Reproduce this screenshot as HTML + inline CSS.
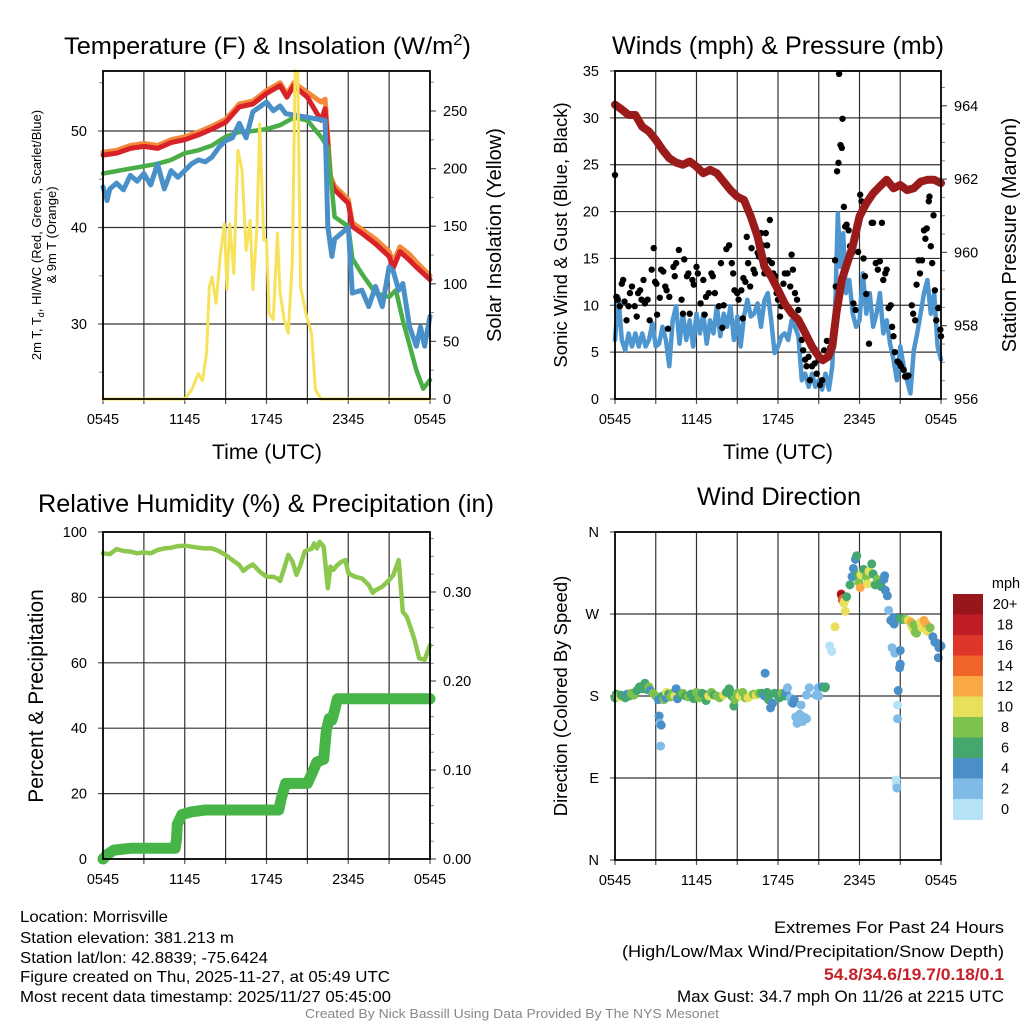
<!DOCTYPE html>
<html><head><meta charset="utf-8"><style>
html,body{margin:0;padding:0;background:#fff;}
svg{display:block;font-family:"Liberation Sans",sans-serif;}
</style></head><body>
<svg id="chart" width="1024" height="1024" viewBox="0 0 1024 1024" xmlns="http://www.w3.org/2000/svg">
<rect width="1024" height="1024" fill="#fff"/>
<text x="64" y="54" font-size="24.5" textLength="407" lengthAdjust="spacingAndGlyphs">Temperature (F) &amp; Insolation (W/m<tspan dy="-9" font-size="16">2</tspan><tspan dy="9">)</tspan></text>
<text x="778" y="54" font-size="25" text-anchor="middle" textLength="332" lengthAdjust="spacingAndGlyphs">Winds (mph) &amp; Pressure (mb)</text>
<text x="266" y="512" font-size="25" text-anchor="middle" textLength="456" lengthAdjust="spacingAndGlyphs">Relative Humidity (%) &amp; Precipitation (in)</text>
<text x="779" y="505" font-size="25" text-anchor="middle" textLength="164" lengthAdjust="spacingAndGlyphs">Wind Direction</text>

<text x="267" y="459" font-size="21" text-anchor="middle" textLength="110" lengthAdjust="spacingAndGlyphs">Time (UTC)</text>
<text x="778" y="459" font-size="21" text-anchor="middle" textLength="110" lengthAdjust="spacingAndGlyphs">Time (UTC)</text>
<text transform="translate(41,235) rotate(-90)" font-size="13" text-anchor="middle">2m T, T<tspan dy="3" font-size="9">d</tspan><tspan dy="-3">, HI/WC (Red, Green, Scarlet/Blue)</tspan></text>
<text transform="translate(56,235) rotate(-90)" font-size="13" text-anchor="middle">&amp; 9m T (Orange)</text>
<text transform="translate(501,235) rotate(-90)" font-size="20" text-anchor="middle">Solar Insolation (Yellow)</text>
<text transform="translate(567,235) rotate(-90)" font-size="18.5" text-anchor="middle">Sonic Wind &amp; Gust (Blue, Black)</text>
<text transform="translate(1016,235) rotate(-90)" font-size="20" text-anchor="middle">Station Pressure (Maroon)</text>
<text transform="translate(43,696) rotate(-90)" font-size="21" text-anchor="middle">Percent &amp; Precipitation</text>
<text transform="translate(567,696) rotate(-90)" font-size="18.5" text-anchor="middle">Direction (Colored By Speed)</text>

<g font-size="16">
<text x="20" y="922" textLength="148" lengthAdjust="spacingAndGlyphs">Location: Morrisville</text>
<text x="20" y="943" textLength="214" lengthAdjust="spacingAndGlyphs">Station elevation: 381.213 m</text>
<text x="20" y="963" textLength="248" lengthAdjust="spacingAndGlyphs">Station lat/lon: 42.8839; -75.6424</text>
<text x="20" y="982" textLength="370" lengthAdjust="spacingAndGlyphs">Figure created on Thu, 2025-11-27, at 05:49 UTC</text>
<text x="20" y="1002" textLength="371" lengthAdjust="spacingAndGlyphs">Most recent data timestamp: 2025/11/27 05:45:00</text>
</g>
<g font-size="16.5" text-anchor="end">
<text x="1004" y="933" textLength="230" lengthAdjust="spacingAndGlyphs">Extremes For Past 24 Hours</text>
<text x="1004" y="957" textLength="382" lengthAdjust="spacingAndGlyphs">(High/Low/Max Wind/Precipitation/Snow Depth)</text>
<text x="1004" y="980" fill="#c8202a" font-weight="bold" textLength="180" lengthAdjust="spacingAndGlyphs">54.8/34.6/19.7/0.18/0.1</text>
<text x="1004" y="1002" textLength="327" lengthAdjust="spacingAndGlyphs">Max Gust: 34.7 mph On 11/26 at 2215 UTC</text>
</g>
<text x="512" y="1018" font-size="13" fill="#888" text-anchor="middle" textLength="414" lengthAdjust="spacingAndGlyphs">Created By Nick Bassill Using Data Provided By The NYS Mesonet</text>
</svg>
<script>
// ---------- data ----------
const tempT=[0,1,2,3,4,5,6,7,8,9,10,11,12,13,13.5,14,15,16,16.3,16.7,17,18,18.3,19,20,21,21.3,21.8,22.5,23,24];
const tempRed=[47.5,47.7,48.2,48.4,48.2,48.8,49.1,49.6,50.2,50.9,52.5,52.8,53.9,54.7,53.5,54.7,53.5,51.1,52.3,44.9,43.9,42.5,40.1,39.4,38.3,37.0,35.8,37.5,36.6,35.9,34.6];
const tempOrange=[47.8,48.0,48.5,48.7,48.5,49.1,49.4,49.9,50.5,51.2,52.8,53.1,54.2,55.0,53.8,55.0,54.0,53.0,53.3,45.3,44.3,42.9,40.5,39.8,38.8,37.5,36.4,38.0,37.2,36.4,35.0];
const dewT=[0,2,4,5,6,7,8,9,10,11,12,13,14,15,16,16.5,17,18,18.3,19,20,21,21.5,22,23,23.5,24];
const dewGreen=[45.6,46.1,46.6,47.0,47.7,48.0,48.5,49.4,49.9,50.0,50.2,50.6,51.4,51.1,49.4,48.3,41.1,40.1,36.8,35.2,33.2,32.8,33.5,30.4,25.2,23.3,24.2];
const chillT=[0,0.3,0.5,1,1.5,2,2.5,3,3.5,4,4.5,5,5.5,6,6.5,7,7.5,8,8.5,9,9.5,10,10.5,11,11.5,12,12.5,13,13.4,16.3,16.5,16.8,17,17.5,18,18.3,19,19.5,20,20.5,21,21.3,21.7,22,22.5,23,23.3,23.6,24];
const chillBlue=[44.2,42.8,44.0,44.6,43.9,45.4,44.8,45.6,44.4,46.6,44.0,45.9,45.2,45.9,46.6,47.0,46.8,47.3,48.3,49.0,49.3,50.8,49.3,52.0,52.5,53.0,52.1,52.6,51.8,51.1,40.1,37.0,38.8,39.4,40.0,33.2,33.5,31.8,33.9,31.8,35.9,35.5,33.5,34.2,29.7,27.7,29.7,27.7,30.8];
const solarT=[0,6,6.5,7,7.3,7.6,7.8,8,8.3,8.6,8.9,9.1,9.3,9.6,9.9,10.2,10.5,10.8,11,11.3,11.5,11.8,12,12.2,12.5,12.8,13,13.3,13.6,13.9,14.1,14.3,14.5,14.9,15.3,15.6,16,24];
const solarV=[0,0,8,22,16,40,97,106,83,124,152,95,152,109,216,199,129,155,95,150,239,138,138,74,69,144,92,69,57,121,285,283,97,74,57,8,0,0];

const presT=[0,0.5,1,1.5,2,2.5,3,3.5,4,4.5,5,5.5,6,6.5,7,7.5,8,8.5,9,9.5,10,10.5,11,11.5,12,12.5,13,13.5,14,14.5,15,15.3,15.7,16,16.3,16.7,17,17.5,18,18.5,19,19.5,20,20.5,21,21.5,22,22.5,23,23.5,24];
const presV=[964.03,963.9,963.75,963.75,963.43,963.3,963.07,962.8,962.57,962.45,962.39,962.48,962.34,962.16,962.25,962.16,961.93,961.7,961.52,961.43,960.98,960.43,959.61,959.34,958.98,958.6,958.34,958.16,957.8,957.43,957.16,957.06,957.16,957.43,958.34,959.25,959.6,960.16,960.98,961.34,961.61,961.8,961.98,961.75,961.84,961.7,961.75,961.93,961.98,961.98,961.89];
const windT=[0,0.25,0.5,0.75,1,1.25,1.5,1.75,2,2.25,2.5,2.75,3,3.25,3.5,3.75,4,4.25,4.5,4.75,5,5.25,5.5,5.75,6,6.25,6.5,6.75,7,7.25,7.5,7.75,8,8.25,8.5,8.75,9,9.25,9.5,9.75,10,10.25,10.5,10.75,11,11.25,11.5,11.75,12,12.25,12.5,12.75,13,13.25,13.5,13.75,14,14.25,14.5,14.75,15,15.25,15.5,15.75,16,16.25,16.4,16.6,16.8,17,17.25,17.5,17.75,18,18.25,18.5,18.75,19,19.25,19.5,19.75,20,20.25,20.5,20.75,21,21.25,21.5,21.75,22,22.25,22.5,22.75,23,23.25,23.5,23.75,24];
const windV=[6.3,10.9,6.3,5.2,7.0,5.6,7.0,5.6,7.0,5.6,6.3,8.1,5.6,5.9,7.7,6.3,3.5,8.4,9.9,5.9,9.1,6.3,8.4,5.6,9.1,7.0,9.1,5.9,8.4,7.0,9.9,6.7,9.1,7.7,9.9,6.3,8.8,5.6,8.8,10.6,8.8,9.1,10.2,7.7,10.5,11.3,8.4,4.9,5.6,6.7,7.0,6.3,8.4,7.7,6.7,2.0,2.7,1.3,2.7,1.3,2.0,1.0,2.7,1.0,3.5,11.3,19.8,14.1,17.7,11.3,12.7,9.1,7.7,8.4,13.4,9.1,11.3,7.7,9.1,11.3,7.0,8.4,5.9,4.2,2.0,5.6,3.5,2.0,0.6,5.2,7.0,9.1,11.3,12.7,9.1,11.3,5.6,4.2];
const gustT=[0,0.1,0.2,0.35,0.5,0.6,0.7,0.85,1.0,1.1,1.25,1.45,1.6,1.7,1.85,1.95,2.1,2.2,2.4,2.55,2.7,2.85,2.95,3.05,3.1,3.3,3.4,3.55,3.7,3.8,3.9,4.0,4.3,4.4,4.5,4.7,4.9,5.0,5.1,5.3,5.4,5.5,5.7,5.8,6.0,6.1,6.3,6.5,6.6,6.7,6.9,7.1,7.2,7.35,7.65,7.8,7.9,8.0,8.2,8.4,8.6,8.7,8.8,9.0,9.1,9.3,9.4,9.45,9.6,9.7,9.8,9.95,10.05,10.2,10.3,10.5,10.6,10.75,10.85,11.0,11.1,11.2,11.3,11.4,11.55,11.65,11.8,11.9,12.0,12.15,12.25,12.4,12.5,12.7,12.9,13.0,13.1,13.25,13.4,13.5,13.6,13.75,13.85,14.0,14.1,14.25,14.35,14.5,14.7,14.85,15.0,15.1,15.25,15.4,15.6,15.85,15.95,16.2,16.25,16.35,16.45,16.5,16.6,16.7,16.75,16.85,16.95,17.05,17.2,17.3,17.45,17.55,17.7,17.9,18.05,18.15,18.3,18.4,18.5,18.7,18.9,19.0,19.2,19.35,19.5,19.65,19.75,19.9,20.0,20.15,20.3,20.4,20.5,20.6,20.8,20.95,21.05,21.25,21.35,21.5,21.6,21.85,21.95,22.1,22.2,22.35,22.45,22.6,22.75,22.85,22.95,23.1,23.15,23.25,23.35,23.45,23.55,23.65,23.8,23.95,24.0];
const gustV=[23.9,10.9,10.6,9.9,12.3,12.7,10.4,8.4,9.9,11.3,12.0,9.9,8.8,11.3,11.6,10.6,12.7,10.2,10.6,8.4,13.8,16.1,12.5,12.3,9.0,10.8,13.8,13.6,12.0,11.6,7.5,10.9,14.1,13.1,14.5,15.9,10.6,9.1,14.9,13.1,13.4,9.1,12.7,12.2,14.1,13.4,10.2,12.7,9.0,10.9,11.3,13.4,13.1,11.3,9.9,14.5,7.6,10.0,16.0,16.4,14.5,13.4,11.6,11.3,10.6,11.6,8.6,12.9,12.5,17.3,14.5,12.0,16.1,13.8,13.4,15.6,15.2,17.7,16.4,13.4,17.7,16.4,14.8,19.1,14.5,13.4,13.1,11.3,10.6,8.8,9.9,12.3,13.4,13.4,12.0,15.4,13.8,11.3,10.6,9.5,8.1,6.3,5.2,4.2,3.5,4.5,2.0,3.5,3.8,2.7,4.2,1.5,2.0,5.2,6.2,5.5,5.9,14.8,12.0,24.3,25.2,34.7,27.1,26.8,29.9,20.5,18.4,18.6,18.0,16.3,15.6,10.2,9.5,15.7,21.8,21.1,15.0,13.1,11.2,5.9,18.8,18.8,14.5,13.8,14.7,18.8,12.7,13.4,13.8,9.7,10.0,7.7,6.7,5.0,4.0,3.8,3.5,3.1,2.4,2.4,2.5,10.0,9.1,8.4,12.2,14.8,13.4,14.8,18.0,17.1,18.2,21.1,21.6,16.3,14.5,19.6,11.6,8.4,9.7,7.4,6.7];

const rhT=[0,0.5,1,1.5,2,2.5,3,3.5,4,4.5,5,5.5,6,6.5,7,7.5,8,8.5,9,9.5,10,10.3,10.6,11,11.5,12,12.5,12.8,13,13.3,13.6,13.9,14.2,14.5,14.8,15,15.3,15.5,15.7,15.9,16.2,16.5,16.7,16.9,17.2,17.5,17.8,18,18.5,19,19.5,19.8,20,20.5,21,21.3,21.7,22,22.3,22.6,22.9,23.2,23.6,24];
const rhV=[93.5,93.2,94.8,94.2,94.0,93.5,93.8,93.5,94.5,95.0,95.2,95.7,95.8,95.5,95.2,95.0,95.0,94.2,93.0,91.4,89.9,88.1,89.1,90.1,87.9,86.3,86.3,85.8,85.0,88.9,93.0,91.0,86.9,90.0,94.0,94.5,94.8,96.5,95.0,97.0,95.5,82.8,89.4,88.4,89.9,90.9,91.4,87.4,86.3,85.8,83.8,81.4,82.2,83.3,85.3,86.8,91.4,75.6,74.1,70.5,66.5,61.4,60.9,65.4];
const precipT=[0,0.3,0.8,2,5.3,5.4,5.45,5.8,6.5,7.5,12.9,13.1,13.4,15.0,15.3,15.7,16.2,16.4,16.6,16.8,17.0,17.2,24];
const precipV=[0,0.005,0.01,0.012,0.012,0.023,0.039,0.05,0.053,0.055,0.055,0.069,0.085,0.085,0.095,0.109,0.112,0.145,0.158,0.156,0.167,0.18,0.18];

const dirT=[0,0.1,0.2,0.3,0.45,0.6,0.75,0.9,1.05,1.2,1.4,1.6,1.8,2.0,2.2,2.35,2.5,2.6,2.8,3.0,3.2,3.25,3.3,3.4,3.35,3.5,3.6,3.75,3.8,3.95,4.1,4.25,4.4,4.5,4.6,4.8,5.0,5.2,5.4,5.6,5.8,6.0,6.2,6.4,6.55,6.7,6.9,7.1,7.3,7.5,7.7,8.0,8.2,8.4,8.45,8.6,8.75,8.8,9.0,9.2,9.4,9.6,9.8,10.0,10.2,10.4,10.6,10.8,11.0,11.05,11.2,11.3,11.45,11.6,11.75,12.0,12.1,12.3,12.5,12.6,12.7,12.9,13.0,13.1,13.2,13.3,13.4,13.6,13.7,13.8,13.9,14.1,14.3,14.1,14.8,14.95,15.0,15.25,15.45,15.5,15.8,15.95,16.2,16.65,16.7,16.75,16.8,16.85,16.9,16.95,17.05,17.3,17.45,17.55,17.7,17.8,17.85,17.95,18.05,18.1,18.2,18.3,18.5,18.6,18.7,18.9,19.0,19.15,19.3,19.4,19.6,19.8,19.85,19.9,20.05,20.15,20.3,20.5,20.55,20.4,20.6,21.0,20.95,21.0,20.85,20.8,20.8,20.7,20.7,20.75,21.0,21.2,21.4,21.6,21.8,21.85,21.9,22.0,22.1,22.2,22.5,22.6,22.75,22.9,23.0,23.2,23.4,23.55,23.7,23.85,24,23.8];
const dirV=[178,182,180,179,181,180,178,182,180,183,181,186,190,188,194,187,190,186,183,180,176,158,150,148,125,180,176,178,184,182,179,183,180,188,177,181,183,180,179,182,177,184,178,183,182,175,180,184,181,180,178,181,184,188,186,180,169,176,183,180,184,178,178,181,182,181,183,183,180,205,184,176,167,172,183,180,178,183,180,184,189,178,173,172,176,157,150,160,170,152,157,181,189,155,181,189,180,190,189,190,235,229,256,292,290,285,287,282,284,273,289,302,311,320,330,334,313,305,299,313,315,319,311,303,317,325,314,302,308,303,300,308,312,296,290,274,263,266,259,233,227,230,211,215,186,170,155,88,83,79,265,264,264,263,261,258,255,258,250,249,261,255,263,259,251,255,245,239,238,233,235,222];
const dirS=[6,6,8,10,6,6,6,4,6,8,8,6,6,6,6,6,8,4,8,8,4,4,2,4,2,6,8,4,10,6,8,8,10,4,4,6,8,6,8,6,6,8,8,6,6,6,10,8,6,8,8,10,6,6,6,6,6,8,8,10,8,8,10,10,8,10,8,6,4,4,6,6,4,4,6,6,6,8,6,4,2,2,2,4,4,2,2,2,2,2,2,2,2,2,2,2,2,4,6,6,0,0,10,18,20,16,14,10,10,10,6,6,4,4,4,6,6,8,12,10,10,6,8,10,10,6,6,6,8,6,6,4,4,4,4,2,4,4,4,2,2,4,4,4,4,0,2,0,0,2,6,6,8,10,12,12,10,8,8,8,10,10,12,12,10,8,4,4,4,4,4,4];

const xTickLabels=["0545","1145","1745","2345","0545"];
const tempTicks=[30,40,50];
const solarTicks=[0,50,100,150,200,250];
const windTicks=[0,5,10,15,20,25,30,35];
const presTicks=[956,958,960,962,964];
const rhTicks=[0,20,40,60,80,100];
const precipTicks=[0,0.1,0.2,0.3];
const dirTicks=[0,90,180,270,360];
const dirLabels=["N","E","S","W","N"];
const speedBins=[0,2,4,6,8,10,12,14,16,18,20];
const speedLabels=["0","2","4","6","8","10","12","14","16","18","20+"];
const speedColors=["#b6e2f7","#7fbbe6","#4a8fc8","#44a86e","#7cc24c","#e8e05a","#f8a845","#f06428","#e0352a","#c01e26","#96161b"];

// ---------- scales ----------
const svg=document.getElementById('chart');
const NS='http://www.w3.org/2000/svg';
const xL=t=>103+t*327/24;
const xR=t=>615+t*326/24;
const yTemp=v=>131+(50-v)*9.65;
const ySolar=v=>399-v*1.152;
const yWind=v=>399-v*328/35;
const yPres=v=>399-(v-956)*36.65;
const yRH=v=>859-v*3.27;
const yPrecip=v=>859-v*890;
const yDir=v=>860-v*328/360;

function mk(tag,attrs,parent){const e=document.createElementNS(NS,tag);for(const k in attrs)e.setAttribute(k,attrs[k]);(parent||svg).appendChild(e);return e;}
function pathFrom(ts,vs,fx,fy){return ts.map((t,i)=>(i?'L':'M')+fx(t).toFixed(1)+' '+fy(vs[i]).toFixed(1)).join(' ');}

function frame(x0,x1,y0,y1,name,fx,hGrid){
  const g=mk('g',{});
  
  
  for(let h=3;h<24;h+=3){mk('line',{x1:fx(h),x2:fx(h),y1:y0,y2:y1,stroke:'#333','stroke-width':1.2},g);}
  hGrid.forEach(y=>mk('line',{x1:x0,x2:x1,y1:y,y2:y,stroke:'#333','stroke-width':1.2},g));
  for(let h=0;h<=24;h+=3){mk('line',{x1:fx(h),x2:fx(h),y1:y1,y2:y1+5,stroke:'#555','stroke-width':1.2},g);}
  xTickLabels.forEach((lab,i)=>{const t=mk('text',{x:fx(i*6),y:y1+25,'font-size':14.5,'text-anchor':'middle'},g);t.textContent=lab;
    
    });
}
function frameBox(x0,x1,y0,y1,name){
  const r=mk('rect',{x:x0,y:y0,width:x1-x0,height:y1-y0,fill:'none',stroke:'#000','stroke-width':1.8});
  
  
}
function leftTicks(vals,fy,x,fmt,name){vals.forEach(v=>{mk('line',{x1:x-5,x2:x,y1:fy(v),y2:fy(v),stroke:'#555','stroke-width':1.2});
  const t=mk('text',{x:x-16,y:fy(v)+5,'font-size':14.5,'text-anchor':'end'});t.textContent=fmt(v);
  
  });}
function rightTicks(vals,fy,x,fmt,name){vals.forEach(v=>{mk('line',{x1:x,x2:x+6,y1:fy(v),y2:fy(v),stroke:'#555','stroke-width':1.2});
  const t=mk('text',{x:x+13,y:fy(v)+5,'font-size':14.5});t.textContent=fmt(v);
  
  });}
function minor(x,dir,fy,a,b,step){for(let v=a;v<=b+1e-9;v+=step){mk('line',{x1:x,x2:x+dir*4,y1:fy(v),y2:fy(v),stroke:'#888','stroke-width':1});}}
function line(ts,vs,fx,fy,color,w,name){const p=mk('path',{d:pathFrom(ts,vs,fx,fy),fill:'none',stroke:color,'stroke-width':w,'stroke-linejoin':'round','stroke-linecap':'round'});
  
  return p;}

// ---------- panel 1 ----------
frame(103,430,71,399,'temp',xL,tempTicks.map(yTemp));
minor(103,-1,yTemp,25,55,5);
leftTicks(tempTicks,yTemp,103,v=>v,'temp-y-tick');
minor(430,1,ySolar,0,285,25);
rightTicks(solarTicks,ySolar,430,v=>v,'solar-y-tick');
line(tempT,tempOrange,xL,yTemp,'#f5883a',5,'series-9m-temp-orange');
line(tempT,tempRed,xL,yTemp,'#d8222a',5,'series-2m-temp-red');
line(dewT,dewGreen,xL,yTemp,'#4aad48',4.5,'series-dewpoint-green');
line(chillT,chillBlue,xL,yTemp,'#4a90c8',5,'series-windchill-blue');
line(solarT,solarV,xL,ySolar,'#f8e25c',3,'series-solar-yellow');
frameBox(103,430,71,399,'temp-panel');

// ---------- panel 2 ----------
frame(615,941,71,399,'wind',xR,windTicks.map(yWind));
leftTicks(windTicks,yWind,615,v=>v,'wind-y-tick');
minor(941,1,yPres,956,964.7,0.5);
rightTicks(presTicks,yPres,941,v=>v,'pressure-y-tick');
line(windT,windV,xR,yWind,'#4e96d0',4.5,'series-sonic-wind-blue');
gustT.forEach((t,i)=>{const c=mk('circle',{cx:xR(Math.min(t,24)),cy:yWind(gustV[i]),r:3.2,fill:'#000'});
  
  });
line(presT,presV,xR,yPres,'#9b1a1a',8,'series-pressure-maroon');
frameBox(615,941,71,399,'wind-panel');

// ---------- panel 3 ----------
frame(103,430,532,859,'humidity',xL,[20,40,60,80].map(yRH));
leftTicks(rhTicks,yRH,103,v=>v,'rh-y-tick');
minor(430,1,yPrecip,0,0.36,0.02);
rightTicks(precipTicks,yPrecip,430,v=>v.toFixed(2),'precip-y-tick');
line(rhT,rhV,xL,yRH,'#8dc84e',4.5,'series-rh-lightgreen');
line(precipT,precipV,xL,yPrecip,'#46b446',11,'series-precip-green');
frameBox(103,430,532,859,'humidity-panel');

// ---------- panel 4 ----------
frame(615,941,532,860,'direction',xR,[90,180,270].map(yDir));
leftTicks(dirTicks,yDir,615,(v)=>dirLabels[dirTicks.indexOf(v)],'direction-y-tick');
function speedColor(s){let k=0;speedBins.forEach((b,i)=>{if(s>=b)k=i;});return speedColors[k];}
dirT.forEach((t,i)=>{const c=mk('circle',{cx:xR(t),cy:yDir(dirV[i]),r:4.5,fill:speedColor(dirS[i])});
  
  });
frameBox(615,941,532,860,'direction-panel');

// colorbar
const cbTop=594,cbH=20.5;
const mph=mk('text',{x:1006,y:588,'font-size':14.5,'text-anchor':'middle'});mph.textContent='mph';


speedColors.slice().reverse().forEach((col,i)=>{
  const r=mk('rect',{x:953,y:cbTop+i*cbH,width:30,height:cbH+0.5,fill:col});
  
  
  const t=mk('text',{x:1005,y:cbTop+i*cbH+15,'font-size':14.5,'text-anchor':'middle'});
  t.textContent=speedLabels[speedLabels.length-1-i];
  
  
});
</script>
</body></html>
